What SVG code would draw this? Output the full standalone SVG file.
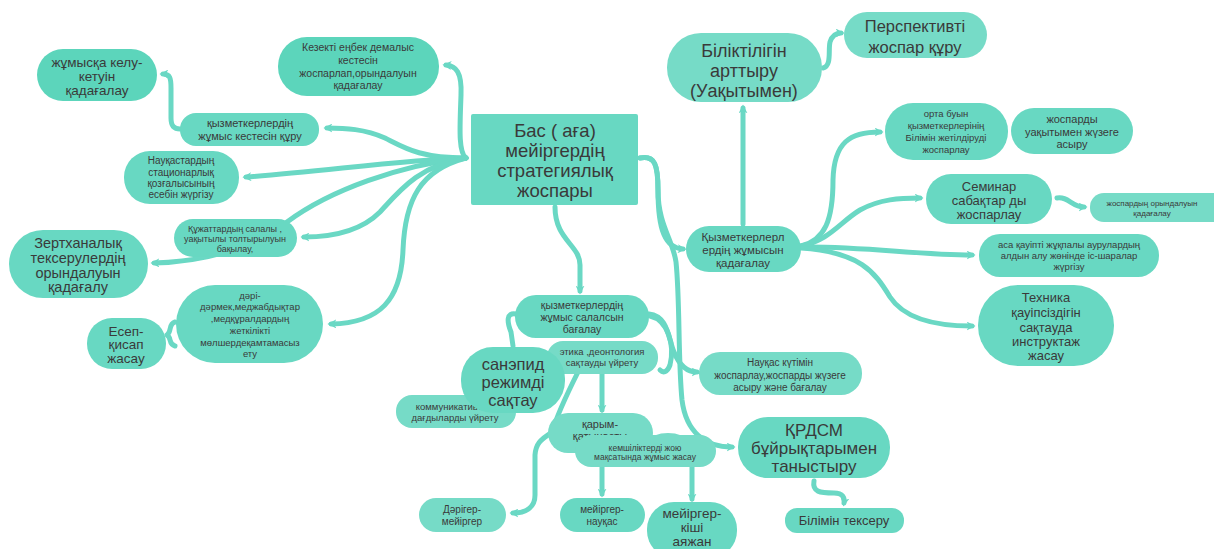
<svg xmlns="http://www.w3.org/2000/svg" width="1214" height="549" viewBox="0 0 1214 549">
<defs>
<style>
.n{fill:#68d8c2;}
.n2{fill:#5cd5bb;}
.n3{fill:#76dbc7;}
.t{font-family:"Liberation Sans",Arial,sans-serif;fill:#3a3a3a;text-anchor:middle;}
.c{fill:none;stroke:#6ad8c4;stroke-width:5;stroke-linecap:round;stroke-linejoin:round;}
</style>
<marker id="a" viewBox="0 0 10 10" refX="6" refY="5" markerWidth="9" markerHeight="9" markerUnits="userSpaceOnUse" orient="auto">
<path d="M0,0 L10,5 L0,10 L3,5 Z" fill="#6ad8c4"/>
</marker>
</defs>
<rect width="1214" height="549" fill="#ffffff"/>
<g id="connectors">
<path class="c" marker-end="url(#a)" d="M466,158 C458,152 460,125 461,95 C462,72 456,66 446,65"/>
<path class="c" marker-end="url(#a)" d="M466,158 C420,158 405,148 385,138 C365,129 345,128 327,128"/>
<path class="c" marker-end="url(#a)" d="M466,158 C400,160 320,172 246,177"/>
<path class="c" marker-end="url(#a)" d="M466,158 C400,165 330,190 287,222 C250,250 200,262 154,263"/>
<path class="c" marker-end="url(#a)" d="M466,158 C420,165 400,190 380,212 C360,232 330,237 304,237"/>
<path class="c" marker-end="url(#a)" d="M466,158 C420,170 405,200 403,250 C401,300 380,323 331,324"/>
<path class="c" marker-end="url(#a)" d="M743,224 L743,108"/>
<path class="c" marker-end="url(#a)" d="M640,158 C655,155 658,165 658,190 C658,230 665,248 683,249"/>
<path class="c" marker-end="url(#a)" d="M555,207 C555,240 580,245 580,265 L580,291"/>
<path class="c" marker-end="url(#a)" d="M801,246 C825,240 833,220 833,180 C834,142 850,132 880,132"/>
<path class="c" marker-end="url(#a)" d="M801,246 C830,240 840,222 860,210 C880,199 900,198 920,198"/>
<path class="c" marker-end="url(#a)" d="M801,247 C860,246 920,255 972,255"/>
<path class="c" marker-end="url(#a)" d="M801,248 C860,252 875,272 890,297 C905,320 940,326 972,326"/>
<path class="c" marker-end="url(#a)" d="M1057,198 C1068,196 1072,207 1084,207"/>
<path class="c" marker-end="url(#a)" d="M823,68 C832,66 828,50 830,42 C832,36 836,33 841,33"/>
<path class="c" marker-end="url(#a)" d="M814,481 C812,492 820,493 834,493 C843,493 845,498 844,503"/>
<path class="c" marker-end="url(#a)" d="M180,129 C174,129 171,126 171,118 L171,88 C171,78 170,74 163,74"/>
<path class="c" d="M175,322 C168,324 172,332 167,335 C172,338 168,344 175,346"/>
<path class="c" marker-end="url(#a)" d="M640,158 C655,155 658,165 658,190 C658,225 673,240 676,262 C680,300 678,360 682,400 C686,432 705,447 732,447"/>
<path class="c" marker-end="url(#a)" d="M649,314 C668,316 668,338 674,352 C680,367 688,372 697,372"/>
<path class="c" d="M650,316 C668,320 675,345 670,365 C667,373 663,373 660,370"/>
<path class="c" d="M516,314 C506,312 507,322 511,332 L513,346"/>
<path class="c" marker-end="url(#a)" d="M602,374 L602,410"/>
<path class="c" marker-end="url(#a)" d="M578,372 C568,392 558,412 552,432 C545,438 536,440 535,455 L535,495 C535,508 525,513 513,513"/>
<path class="c" marker-end="url(#a)" d="M602,467 L602,494"/>
<path class="c" marker-end="url(#a)" d="M692,467 L692,499"/>
</g>
<g id="n-central"><rect class="n" x="471" y="114" width="167" height="91" rx="2"/>
<text class="t" font-size="18.5"><tspan x="555" y="137">Бас ( аға)</tspan><tspan x="555" y="157">мейіргердің</tspan><tspan x="555" y="177">стратегиялық</tspan><tspan x="555" y="197">жоспары</tspan></text></g>
<g id="n-kelu"><rect class="n2" x="37" y="49" width="120" height="52" rx="26"/>
<text class="t" font-size="13.5"><tspan x="97" y="67">жұмысқа келу-</tspan><tspan x="97" y="81">кетуін</tspan><tspan x="97" y="95">қадағалау</tspan></text></g>
<g id="n-kezekti"><rect class="n2" x="278" y="37" width="161" height="59" rx="29"/>
<text class="t" font-size="10.5"><tspan x="358" y="51">Кезекті еңбек демалыс</tspan><tspan x="358" y="64">кестесін</tspan><tspan x="358" y="77">жоспарлап,орындалуын</tspan><tspan x="358" y="89">қадағалау</tspan></text></g>
<g id="n-kestesin"><rect class="n" x="180" y="113" width="139" height="33" rx="16"/>
<text class="t" font-size="11"><tspan x="250" y="127">қызметкерлердің</tspan><tspan x="250" y="140">жұмыс кестесін құру</tspan></text></g>
<g id="n-stat"><rect class="n" x="124" y="151" width="115" height="53" rx="26"/>
<text class="t" font-size="10"><tspan x="181" y="164">Науқастардың</tspan><tspan x="181" y="176">стационарлық</tspan><tspan x="181" y="187">қозғалысының</tspan><tspan x="181" y="198">есебін жүргізу</tspan></text></g>
<g id="n-qujat"><rect class="n" x="174" y="219" width="123" height="38" rx="19"/>
<text class="t" font-size="9"><tspan x="235" y="232">Құжаттардың салалы ,</tspan><tspan x="235" y="242">уақытылы толтырылуын</tspan><tspan x="235" y="252">бақылау,</tspan></text></g>
<g id="n-zerth"><rect class="n" x="9" y="230" width="139" height="68" rx="34"/>
<text class="t" font-size="14.5"><tspan x="78" y="248">Зертханалық</tspan><tspan x="78" y="263">тексерулердің</tspan><tspan x="78" y="278">орындалуын</tspan><tspan x="78" y="292">қадағалу</tspan></text></g>
<g id="n-dari"><rect class="n" x="176" y="285" width="147" height="78" rx="39"/>
<text class="t" font-size="9.5"><tspan x="250" y="299">дәрі-</tspan><tspan x="250" y="310">дәрмек,меджабдықтар</tspan><tspan x="250" y="322">,медқұралдардың</tspan><tspan x="250" y="334">жеткілікті</tspan><tspan x="250" y="346">мөлшердеқамтамасыз</tspan><tspan x="250" y="357">ету</tspan></text></g>
<g id="n-esep"><rect class="n" x="87" y="318" width="79" height="51" rx="25"/>
<text class="t" font-size="13.5"><tspan x="126" y="336">Есеп-</tspan><tspan x="126" y="349">қисап</tspan><tspan x="126" y="363">жасау</tspan></text></g>
<g id="n-bilik"><rect class="n3" x="667" y="33" width="155" height="69" rx="34"/>
<text class="t" font-size="18"><tspan x="744" y="57">Біліктілігін</tspan><tspan x="744" y="77">арттыру</tspan><tspan x="744" y="97">(Уақытымен)</tspan></text></g>
<g id="n-persp"><rect class="n3" x="844" y="12" width="143" height="46" rx="23"/>
<text class="t" font-size="16.5"><tspan x="915" y="32">Перспективті</tspan><tspan x="915" y="53">жоспар құру</tspan></text></g>
<g id="n-orta"><rect class="n" x="885" y="103" width="123" height="57" rx="28"/>
<text class="t" font-size="9.5"><tspan x="946" y="117">орта буын</tspan><tspan x="946" y="129">қызметкерлерінің</tspan><tspan x="946" y="141">Білімін жетілдіруді</tspan><tspan x="946" y="153">жоспарлау</tspan></text></g>
<g id="n-uaq"><rect class="n" x="1011" y="108" width="122" height="46" rx="23"/>
<text class="t" font-size="11"><tspan x="1072" y="123">жоспарды</tspan><tspan x="1072" y="136">уақытымен жүзеге</tspan><tspan x="1072" y="148">асыру</tspan></text></g>
<g id="n-seminar"><rect class="n" x="926" y="174" width="126" height="50" rx="25"/>
<text class="t" font-size="13"><tspan x="989" y="191">Семинар</tspan><tspan x="989" y="205">сабақтар ды</tspan><tspan x="989" y="219">жоспарлау</tspan></text></g>
<g id="n-joro"><rect class="n3" x="1090" y="193" width="140" height="29" rx="14"/>
<text class="t" font-size="8"><tspan x="1152" y="206">жоспардың орындалуын</tspan><tspan x="1152" y="216">қадағалау</tspan></text></g>
<g id="n-qyzm"><rect class="n" x="686" y="226" width="115" height="46" rx="23"/>
<text class="t" font-size="11.5"><tspan x="743" y="241">Қызметкерлерл</tspan><tspan x="743" y="254">ердің жұмысын</tspan><tspan x="743" y="267">қадағалау</tspan></text></g>
<g id="n-asa"><rect class="n" x="979" y="234" width="180" height="43" rx="21"/>
<text class="t" font-size="9.5"><tspan x="1069" y="248">аса қауіпті жұқпалы аурулардың</tspan><tspan x="1069" y="259">алдын алу жөнінде іс-шаралар</tspan><tspan x="1069" y="270">жүргізу</tspan></text></g>
<g id="n-tehnika"><rect class="n" x="978" y="285" width="136" height="81" rx="40"/>
<text class="t" font-size="13"><tspan x="1046" y="302">Техника</tspan><tspan x="1046" y="317">қауіпсіздігін</tspan><tspan x="1046" y="332">сақтауда</tspan><tspan x="1046" y="346">инструктаж</tspan><tspan x="1046" y="360">жасау</tspan></text></g>
<g id="n-kutim"><rect class="n3" x="699" y="352" width="163" height="43" rx="21"/>
<text class="t" font-size="10"><tspan x="780" y="366">Науқас күтімін</tspan><tspan x="780" y="379">жоспарлау,жоспарды жүзеге</tspan><tspan x="780" y="391">асыру және бағалау</tspan></text></g>
<g id="n-qrdsm"><rect class="n" x="738" y="417" width="152" height="61" rx="30"/>
<text class="t" font-size="17"><tspan x="814" y="436">ҚРДСМ</tspan><tspan x="814" y="454">бұйрықтарымен</tspan><tspan x="814" y="472">таныстыру</tspan></text></g>
<g id="n-bilim"><rect class="n" x="785" y="508" width="119" height="25" rx="12"/>
<text class="t" font-size="13"><tspan x="844" y="525">Білімін тексеру</tspan></text></g>
<g id="n-bagalau"><rect class="n" x="515" y="295" width="134" height="43" rx="21"/>
<text class="t" font-size="10.5"><tspan x="582" y="309">қызметкерлердің</tspan><tspan x="582" y="321">жұмыс салалсын</tspan><tspan x="582" y="333">бағалау</tspan></text></g>
<g id="n-etika"><rect class="n3" x="547" y="341" width="111" height="33" rx="16"/>
<text class="t" font-size="9.5"><tspan x="602" y="355">этика ,деонтология</tspan><tspan x="602" y="366">сақтауды үйрету</tspan></text></g>
<g id="n-kommun"><rect class="n3" x="396" y="395" width="120" height="33" rx="16"/>
<text class="t" font-size="9.5"><tspan x="452" y="410">коммуникативтік</tspan><tspan x="455" y="421">дағдыларды үйрету</tspan></text></g>
<g id="n-sanepid"><rect class="n" x="461" y="347" width="104" height="66" rx="32"/>
<text class="t" font-size="16.5"><tspan x="513" y="370">санэпид</tspan><tspan x="513" y="388">режимді</tspan><tspan x="513" y="406">сақтау</tspan></text></g>
<g id="n-qarym"><rect class="n3" x="548" y="413" width="105" height="40" rx="20"/>
<text class="t" font-size="11"><tspan x="600" y="428">қарым-</tspan><tspan x="600" y="440">қатынасты</tspan></text></g>
<g id="n-kemsh"><ellipse class="n3" cx="668" cy="441" rx="18" ry="8"/><rect class="n3" x="575" y="435" width="141" height="32" rx="16"/>
<text class="t" font-size="8.5"><tspan x="645" y="451">кемшіліктерді жою</tspan><tspan x="645" y="460">мақсатында жұмыс жасау</tspan></text></g>
<g id="n-darig"><rect class="n3" x="419" y="498" width="87" height="34" rx="17"/>
<text class="t" font-size="10"><tspan x="462" y="513">Дәрігер-</tspan><tspan x="462" y="525">мейіргер</tspan></text></g>
<g id="n-mnauq"><rect class="n" x="560" y="498" width="85" height="34" rx="17"/>
<text class="t" font-size="10"><tspan x="602" y="513">мейіргер-</tspan><tspan x="602" y="525">науқас</tspan></text></g>
<g id="n-mkishi"><rect class="n" x="647" y="502" width="90" height="56" rx="27"/>
<text class="t" font-size="13.5"><tspan x="692" y="518">мейіргер-</tspan><tspan x="692" y="532">кіші</tspan><tspan x="692" y="546">аяжан</tspan></text></g>
</svg>
